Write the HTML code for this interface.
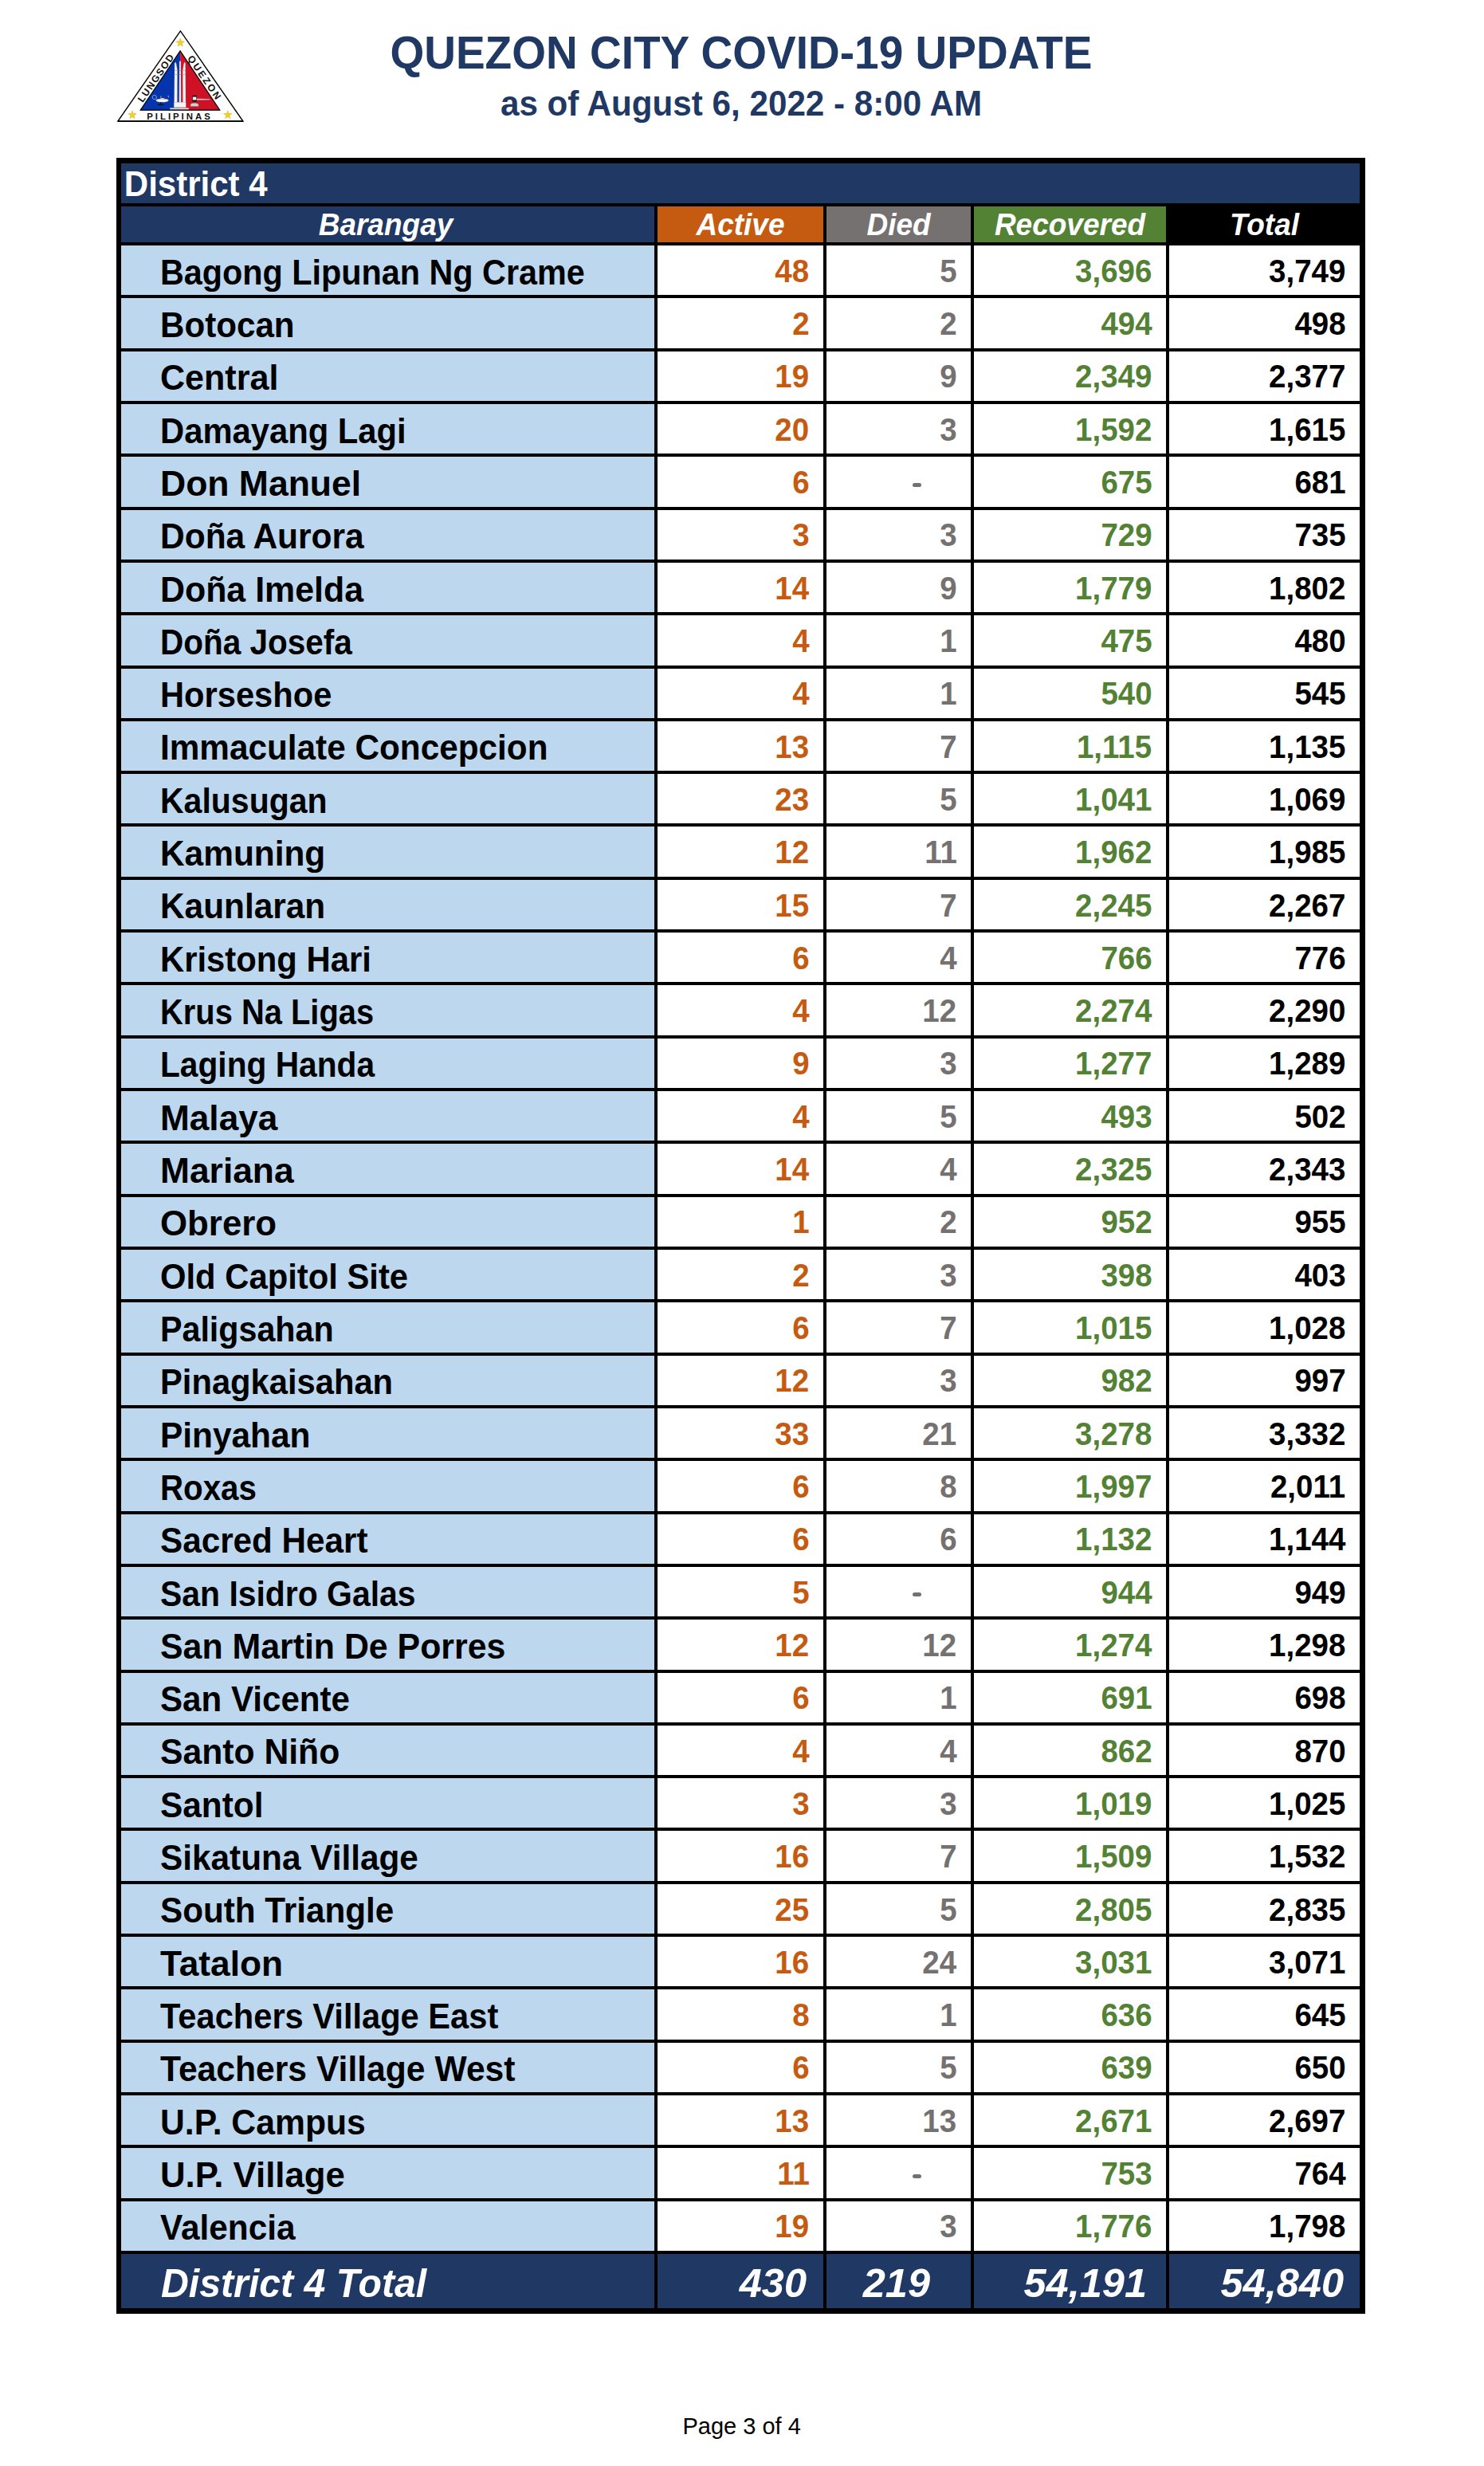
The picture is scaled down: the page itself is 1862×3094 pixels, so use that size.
<!DOCTYPE html>
<html><head><meta charset="utf-8"><title>Quezon City COVID-19 Update</title>
<style>
html,body{margin:0;padding:0;background:#fff}
body{width:1862px;height:3094px;position:relative;overflow:hidden;font-family:"Liberation Sans",sans-serif}
.r{position:absolute}
.t{position:absolute;white-space:nowrap;line-height:1}
.c{text-align:center}
</style></head><body>
<svg style="position:absolute;left:0;top:0" width="320" height="170" viewBox="0 0 320 170">
<defs><path id="st" d="M0,-5.5 L1.29,-1.78 L5.23,-1.7 L2.09,0.68 L3.23,4.45 L0,2.2 L-3.23,4.45 L-2.09,0.68 L-5.23,-1.7 L-1.29,-1.78Z"/></defs>
<polygon points="226.4,38.9 147.9,152.1 304.9,152.1" fill="#fff" stroke="#000" stroke-width="1.4" stroke-linejoin="miter"/>
<line x1="147.9" y1="152.2" x2="304.9" y2="152.2" stroke="#000" stroke-width="1.8"/>
<polygon points="226.1,63.8 176.2,138.2 226.1,138.2" fill="#0535ad"/>
<polygon points="226.1,63.8 226.1,138.2 275.8,138.2" fill="#cf1025"/>
<polygon points="226.1,63.8 176.2,138.2 275.8,138.2" fill="none" stroke="#000" stroke-width="1.2"/>
<g fill="#f8d117" stroke="#b89a10" stroke-width="0.35">
<use href="#st" x="226.2" y="53.6"/>
<use href="#st" x="166" y="144.3"/>
<use href="#st" x="285.8" y="144.3"/>
</g>
<g fill="#f4f4f4" stroke="#8a8a8a" stroke-width="0.3">
<polygon points="218.5,134.5 219.1,79.5 220.2,77.8 221.2,80 222.6,88.5 222.4,134.5"/>
<polygon points="224.7,134.5 225.1,77.5 226,76.2 226.9,77.5 227.2,134.5"/>
<polygon points="229.4,134.5 229.2,88.5 230.6,80 231.6,77.8 232.6,79.5 233.1,134.5"/>
<rect x="218.3" y="128.2" width="14.9" height="6.6"/>
<rect x="213.3" y="135.4" width="23.6" height="1.7" fill="#e8e8e8"/>
</g>
<g stroke="#777" stroke-width="0.45">
<line x1="219.5" y1="88.4" x2="232.4" y2="88.4"/><line x1="219.5" y1="93.6" x2="232.4" y2="93.6"/>
</g>
<g>
<ellipse cx="203.6" cy="126" rx="8" ry="2.3" fill="#fff" stroke="#444" stroke-width="0.35"/>
<path d="M199.5,124.6 C201,122.4 206,122.4 207.8,124.6Z" fill="#fff" stroke="#444" stroke-width="0.3"/>
<rect x="201" y="120.3" width="1.6" height="3.2" fill="#777"/>
<rect x="201.3" y="128" width="1" height="2.6" fill="#111"/>
<ellipse cx="201.9" cy="131.3" rx="4" ry="0.9" fill="#111"/>
<circle cx="193.8" cy="122" r="2.6" fill="none" stroke="#cfd6f0" stroke-width="0.6"/>
<path d="M211.3,122.8 C212.3,121.4 211.6,120 211,119.2 C210.6,120.5 210.4,121.6 211.3,122.8Z" fill="#ddd" stroke="#333" stroke-width="0.3"/>
</g>
<g>
<rect x="241.4" y="119.6" width="5.4" height="8.1" rx="0.5" fill="#1a1a1a"/>
<rect x="241.9" y="121.6" width="4.4" height="3.8" fill="#f0f0f0"/>
<path d="M246.8,123.8 L263.6,124.2 L263.6,125.2 L246.8,125.6Z" fill="#e6e6e6" stroke="#555" stroke-width="0.3"/>
<path d="M238.9,133.6 C238.6,130 240.5,129.3 244,129.3 C247.5,129.3 249.5,130 249.2,133.6Z" fill="#cfcfcf" stroke="#666" stroke-width="0.35"/>
</g>
<g font-family="Liberation Sans" font-weight="bold" font-size="11.4" fill="#111">
<text x="224" y="150.3" text-anchor="middle" textLength="79.5" lengthAdjust="spacing">PILIPINAS</text>
<text font-size="12.2" transform="translate(198.9,100.5) rotate(-55.27)" text-anchor="middle" textLength="70" lengthAdjust="spacing">LUNGSOD</text>
<text font-size="12.2" transform="translate(252.9,99.5) rotate(55.27)" text-anchor="middle" textLength="64" lengthAdjust="spacing">QUEZON</text>
</g>
</svg>

<div class="t c" style="left:430.0px;width:1000px;top:40.44px;font-size:55px;font-weight:bold;color:#1F3864;transform:scaleY(1.04);transform-origin:50% 84%">QUEZON CITY COVID-19 UPDATE</div>
<div class="t c" style="left:430.0px;width:1000px;top:109.88px;font-size:42.2px;font-weight:bold;color:#1F3864;transform:scaleY(1.04);transform-origin:50% 84%">as of August 6, 2022 - 8:00 AM</div>
<div class="r" style="left:146px;top:198px;width:1567px;height:2705px;background:#000"></div>
<div class="r" style="left:152px;top:205px;width:1554px;height:50px;background:#203864"></div>
<div class="t" style="left:155.8px;top:211.45px;font-size:42px;font-weight:bold;color:#fff;transform:scaleY(1.06);transform-origin:0 84%">District 4</div>
<div class="r" style="left:152px;top:259px;width:669px;height:45px;background:#203864"></div>
<div class="t c" style="left:-16.0px;width:1000px;top:263.68px;font-size:37px;font-weight:bold;font-style:italic;color:#fff;transform:scaleY(1.05);transform-origin:50% 84%">Barangay</div>
<div class="r" style="left:825px;top:259px;width:208px;height:45px;background:#C55A11"></div>
<div class="t c" style="left:429.0px;width:1000px;top:263.68px;font-size:37px;font-weight:bold;font-style:italic;color:#fff;transform:scaleY(1.05);transform-origin:50% 84%">Active</div>
<div class="r" style="left:1037px;top:259px;width:181px;height:45px;background:#767171"></div>
<div class="t c" style="left:627.5px;width:1000px;top:263.68px;font-size:37px;font-weight:bold;font-style:italic;color:#fff;transform:scaleY(1.05);transform-origin:50% 84%">Died</div>
<div class="r" style="left:1222px;top:259px;width:241px;height:45px;background:#548235"></div>
<div class="t c" style="left:842.5px;width:1000px;top:263.68px;font-size:37px;font-weight:bold;font-style:italic;color:#fff;transform:scaleY(1.05);transform-origin:50% 84%">Recovered</div>
<div class="r" style="left:1467px;top:259px;width:239px;height:45px;background:#000"></div>
<div class="t c" style="left:1086.5px;width:1000px;top:263.68px;font-size:37px;font-weight:bold;font-style:italic;color:#fff;transform:scaleY(1.05);transform-origin:50% 84%">Total</div>
<div class="r" style="left:152px;top:308px;width:669px;height:62px;background:#BDD7EE"></div>
<div class="r" style="left:825px;top:308px;width:208px;height:62px;background:#fff"></div>
<div class="r" style="left:1037px;top:308px;width:181px;height:62px;background:#fff"></div>
<div class="r" style="left:1222px;top:308px;width:241px;height:62px;background:#fff"></div>
<div class="r" style="left:1467px;top:308px;width:239px;height:62px;background:#fff"></div>
<div class="t" style="left:201.0px;top:318.61px;font-size:45px;font-weight:bold;color:#000;transform:scaleX(0.9185);transform-origin:0 0">Bagong Lipunan Ng Crame</div>
<div class="t" style="right:846.5px;top:319.72px;font-size:40.5px;font-weight:bold;color:#C55A11;transform:scaleX(0.95);transform-origin:100% 0">48</div>
<div class="t" style="right:661.5px;top:319.72px;font-size:40.5px;font-weight:bold;color:#767171;transform:scaleX(0.95);transform-origin:100% 0">5</div>
<div class="t" style="right:416.5px;top:319.72px;font-size:40.5px;font-weight:bold;color:#548235;transform:scaleX(0.95);transform-origin:100% 0">3,696</div>
<div class="t" style="right:173.5px;top:319.72px;font-size:40.5px;font-weight:bold;color:#000;transform:scaleX(0.95);transform-origin:100% 0">3,749</div>
<div class="r" style="left:152px;top:374px;width:669px;height:63px;background:#BDD7EE"></div>
<div class="r" style="left:825px;top:374px;width:208px;height:63px;background:#fff"></div>
<div class="r" style="left:1037px;top:374px;width:181px;height:63px;background:#fff"></div>
<div class="r" style="left:1222px;top:374px;width:241px;height:63px;background:#fff"></div>
<div class="r" style="left:1467px;top:374px;width:239px;height:63px;background:#fff"></div>
<div class="t" style="left:201.0px;top:384.92px;font-size:45px;font-weight:bold;color:#000;transform:scaleX(0.9368);transform-origin:0 0">Botocan</div>
<div class="t" style="right:846.5px;top:386.03px;font-size:40.5px;font-weight:bold;color:#C55A11;transform:scaleX(0.95);transform-origin:100% 0">2</div>
<div class="t" style="right:661.5px;top:386.03px;font-size:40.5px;font-weight:bold;color:#767171;transform:scaleX(0.95);transform-origin:100% 0">2</div>
<div class="t" style="right:416.5px;top:386.03px;font-size:40.5px;font-weight:bold;color:#548235;transform:scaleX(0.95);transform-origin:100% 0">494</div>
<div class="t" style="right:173.5px;top:386.03px;font-size:40.5px;font-weight:bold;color:#000;transform:scaleX(0.95);transform-origin:100% 0">498</div>
<div class="r" style="left:152px;top:441px;width:669px;height:62px;background:#BDD7EE"></div>
<div class="r" style="left:825px;top:441px;width:208px;height:62px;background:#fff"></div>
<div class="r" style="left:1037px;top:441px;width:181px;height:62px;background:#fff"></div>
<div class="r" style="left:1222px;top:441px;width:241px;height:62px;background:#fff"></div>
<div class="r" style="left:1467px;top:441px;width:239px;height:62px;background:#fff"></div>
<div class="t" style="left:201.0px;top:451.24px;font-size:45px;font-weight:bold;color:#000;transform:scaleX(0.9571);transform-origin:0 0">Central</div>
<div class="t" style="right:846.5px;top:452.35px;font-size:40.5px;font-weight:bold;color:#C55A11;transform:scaleX(0.95);transform-origin:100% 0">19</div>
<div class="t" style="right:661.5px;top:452.35px;font-size:40.5px;font-weight:bold;color:#767171;transform:scaleX(0.95);transform-origin:100% 0">9</div>
<div class="t" style="right:416.5px;top:452.35px;font-size:40.5px;font-weight:bold;color:#548235;transform:scaleX(0.95);transform-origin:100% 0">2,349</div>
<div class="t" style="right:173.5px;top:452.35px;font-size:40.5px;font-weight:bold;color:#000;transform:scaleX(0.95);transform-origin:100% 0">2,377</div>
<div class="r" style="left:152px;top:507px;width:669px;height:62px;background:#BDD7EE"></div>
<div class="r" style="left:825px;top:507px;width:208px;height:62px;background:#fff"></div>
<div class="r" style="left:1037px;top:507px;width:181px;height:62px;background:#fff"></div>
<div class="r" style="left:1222px;top:507px;width:241px;height:62px;background:#fff"></div>
<div class="r" style="left:1467px;top:507px;width:239px;height:62px;background:#fff"></div>
<div class="t" style="left:201.0px;top:517.56px;font-size:45px;font-weight:bold;color:#000;transform:scaleX(0.9279);transform-origin:0 0">Damayang Lagi</div>
<div class="t" style="right:846.5px;top:518.66px;font-size:40.5px;font-weight:bold;color:#C55A11;transform:scaleX(0.95);transform-origin:100% 0">20</div>
<div class="t" style="right:661.5px;top:518.66px;font-size:40.5px;font-weight:bold;color:#767171;transform:scaleX(0.95);transform-origin:100% 0">3</div>
<div class="t" style="right:416.5px;top:518.66px;font-size:40.5px;font-weight:bold;color:#548235;transform:scaleX(0.95);transform-origin:100% 0">1,592</div>
<div class="t" style="right:173.5px;top:518.66px;font-size:40.5px;font-weight:bold;color:#000;transform:scaleX(0.95);transform-origin:100% 0">1,615</div>
<div class="r" style="left:152px;top:573px;width:669px;height:63px;background:#BDD7EE"></div>
<div class="r" style="left:825px;top:573px;width:208px;height:63px;background:#fff"></div>
<div class="r" style="left:1037px;top:573px;width:181px;height:63px;background:#fff"></div>
<div class="r" style="left:1222px;top:573px;width:241px;height:63px;background:#fff"></div>
<div class="r" style="left:1467px;top:573px;width:239px;height:63px;background:#fff"></div>
<div class="t" style="left:201.0px;top:583.87px;font-size:45px;font-weight:bold;color:#000;transform:scaleX(0.9889);transform-origin:0 0">Don Manuel</div>
<div class="t" style="right:846.5px;top:584.98px;font-size:40.5px;font-weight:bold;color:#C55A11;transform:scaleX(0.95);transform-origin:100% 0">6</div>
<div class="r" style="left:1145px;top:606px;width:11px;height:5px;border-radius:2.5px;background:#767171"></div>
<div class="t" style="right:416.5px;top:584.98px;font-size:40.5px;font-weight:bold;color:#548235;transform:scaleX(0.95);transform-origin:100% 0">675</div>
<div class="t" style="right:173.5px;top:584.98px;font-size:40.5px;font-weight:bold;color:#000;transform:scaleX(0.95);transform-origin:100% 0">681</div>
<div class="r" style="left:152px;top:640px;width:669px;height:62px;background:#BDD7EE"></div>
<div class="r" style="left:825px;top:640px;width:208px;height:62px;background:#fff"></div>
<div class="r" style="left:1037px;top:640px;width:181px;height:62px;background:#fff"></div>
<div class="r" style="left:1222px;top:640px;width:241px;height:62px;background:#fff"></div>
<div class="r" style="left:1467px;top:640px;width:239px;height:62px;background:#fff"></div>
<div class="t" style="left:201.0px;top:650.19px;font-size:45px;font-weight:bold;color:#000;transform:scaleX(0.9441);transform-origin:0 0">Doña Aurora</div>
<div class="t" style="right:846.5px;top:651.30px;font-size:40.5px;font-weight:bold;color:#C55A11;transform:scaleX(0.95);transform-origin:100% 0">3</div>
<div class="t" style="right:661.5px;top:651.30px;font-size:40.5px;font-weight:bold;color:#767171;transform:scaleX(0.95);transform-origin:100% 0">3</div>
<div class="t" style="right:416.5px;top:651.30px;font-size:40.5px;font-weight:bold;color:#548235;transform:scaleX(0.95);transform-origin:100% 0">729</div>
<div class="t" style="right:173.5px;top:651.30px;font-size:40.5px;font-weight:bold;color:#000;transform:scaleX(0.95);transform-origin:100% 0">735</div>
<div class="r" style="left:152px;top:706px;width:669px;height:62px;background:#BDD7EE"></div>
<div class="r" style="left:825px;top:706px;width:208px;height:62px;background:#fff"></div>
<div class="r" style="left:1037px;top:706px;width:181px;height:62px;background:#fff"></div>
<div class="r" style="left:1222px;top:706px;width:241px;height:62px;background:#fff"></div>
<div class="r" style="left:1467px;top:706px;width:239px;height:62px;background:#fff"></div>
<div class="t" style="left:201.0px;top:716.50px;font-size:45px;font-weight:bold;color:#000;transform:scaleX(0.953);transform-origin:0 0">Doña Imelda</div>
<div class="t" style="right:846.5px;top:717.61px;font-size:40.5px;font-weight:bold;color:#C55A11;transform:scaleX(0.95);transform-origin:100% 0">14</div>
<div class="t" style="right:661.5px;top:717.61px;font-size:40.5px;font-weight:bold;color:#767171;transform:scaleX(0.95);transform-origin:100% 0">9</div>
<div class="t" style="right:416.5px;top:717.61px;font-size:40.5px;font-weight:bold;color:#548235;transform:scaleX(0.95);transform-origin:100% 0">1,779</div>
<div class="t" style="right:173.5px;top:717.61px;font-size:40.5px;font-weight:bold;color:#000;transform:scaleX(0.95);transform-origin:100% 0">1,802</div>
<div class="r" style="left:152px;top:772px;width:669px;height:63px;background:#BDD7EE"></div>
<div class="r" style="left:825px;top:772px;width:208px;height:63px;background:#fff"></div>
<div class="r" style="left:1037px;top:772px;width:181px;height:63px;background:#fff"></div>
<div class="r" style="left:1222px;top:772px;width:241px;height:63px;background:#fff"></div>
<div class="r" style="left:1467px;top:772px;width:239px;height:63px;background:#fff"></div>
<div class="t" style="left:201.0px;top:782.82px;font-size:45px;font-weight:bold;color:#000;transform:scaleX(0.9);transform-origin:0 0">Doña Josefa</div>
<div class="t" style="right:846.5px;top:783.93px;font-size:40.5px;font-weight:bold;color:#C55A11;transform:scaleX(0.95);transform-origin:100% 0">4</div>
<div class="t" style="right:661.5px;top:783.93px;font-size:40.5px;font-weight:bold;color:#767171;transform:scaleX(0.95);transform-origin:100% 0">1</div>
<div class="t" style="right:416.5px;top:783.93px;font-size:40.5px;font-weight:bold;color:#548235;transform:scaleX(0.95);transform-origin:100% 0">475</div>
<div class="t" style="right:173.5px;top:783.93px;font-size:40.5px;font-weight:bold;color:#000;transform:scaleX(0.95);transform-origin:100% 0">480</div>
<div class="r" style="left:152px;top:839px;width:669px;height:62px;background:#BDD7EE"></div>
<div class="r" style="left:825px;top:839px;width:208px;height:62px;background:#fff"></div>
<div class="r" style="left:1037px;top:839px;width:181px;height:62px;background:#fff"></div>
<div class="r" style="left:1222px;top:839px;width:241px;height:62px;background:#fff"></div>
<div class="r" style="left:1467px;top:839px;width:239px;height:62px;background:#fff"></div>
<div class="t" style="left:201.0px;top:849.14px;font-size:45px;font-weight:bold;color:#000;transform:scaleX(0.9259);transform-origin:0 0">Horseshoe</div>
<div class="t" style="right:846.5px;top:850.24px;font-size:40.5px;font-weight:bold;color:#C55A11;transform:scaleX(0.95);transform-origin:100% 0">4</div>
<div class="t" style="right:661.5px;top:850.24px;font-size:40.5px;font-weight:bold;color:#767171;transform:scaleX(0.95);transform-origin:100% 0">1</div>
<div class="t" style="right:416.5px;top:850.24px;font-size:40.5px;font-weight:bold;color:#548235;transform:scaleX(0.95);transform-origin:100% 0">540</div>
<div class="t" style="right:173.5px;top:850.24px;font-size:40.5px;font-weight:bold;color:#000;transform:scaleX(0.95);transform-origin:100% 0">545</div>
<div class="r" style="left:152px;top:905px;width:669px;height:62px;background:#BDD7EE"></div>
<div class="r" style="left:825px;top:905px;width:208px;height:62px;background:#fff"></div>
<div class="r" style="left:1037px;top:905px;width:181px;height:62px;background:#fff"></div>
<div class="r" style="left:1222px;top:905px;width:241px;height:62px;background:#fff"></div>
<div class="r" style="left:1467px;top:905px;width:239px;height:62px;background:#fff"></div>
<div class="t" style="left:201.0px;top:915.45px;font-size:45px;font-weight:bold;color:#000;transform:scaleX(0.9399);transform-origin:0 0">Immaculate Concepcion</div>
<div class="t" style="right:846.5px;top:916.56px;font-size:40.5px;font-weight:bold;color:#C55A11;transform:scaleX(0.95);transform-origin:100% 0">13</div>
<div class="t" style="right:661.5px;top:916.56px;font-size:40.5px;font-weight:bold;color:#767171;transform:scaleX(0.95);transform-origin:100% 0">7</div>
<div class="t" style="right:416.5px;top:916.56px;font-size:40.5px;font-weight:bold;color:#548235;transform:scaleX(0.95);transform-origin:100% 0">1,115</div>
<div class="t" style="right:173.5px;top:916.56px;font-size:40.5px;font-weight:bold;color:#000;transform:scaleX(0.95);transform-origin:100% 0">1,135</div>
<div class="r" style="left:152px;top:971px;width:669px;height:62px;background:#BDD7EE"></div>
<div class="r" style="left:825px;top:971px;width:208px;height:62px;background:#fff"></div>
<div class="r" style="left:1037px;top:971px;width:181px;height:62px;background:#fff"></div>
<div class="r" style="left:1222px;top:971px;width:241px;height:62px;background:#fff"></div>
<div class="r" style="left:1467px;top:971px;width:239px;height:62px;background:#fff"></div>
<div class="t" style="left:201.0px;top:981.77px;font-size:45px;font-weight:bold;color:#000;transform:scaleX(0.911);transform-origin:0 0">Kalusugan</div>
<div class="t" style="right:846.5px;top:982.88px;font-size:40.5px;font-weight:bold;color:#C55A11;transform:scaleX(0.95);transform-origin:100% 0">23</div>
<div class="t" style="right:661.5px;top:982.88px;font-size:40.5px;font-weight:bold;color:#767171;transform:scaleX(0.95);transform-origin:100% 0">5</div>
<div class="t" style="right:416.5px;top:982.88px;font-size:40.5px;font-weight:bold;color:#548235;transform:scaleX(0.95);transform-origin:100% 0">1,041</div>
<div class="t" style="right:173.5px;top:982.88px;font-size:40.5px;font-weight:bold;color:#000;transform:scaleX(0.95);transform-origin:100% 0">1,069</div>
<div class="r" style="left:152px;top:1037px;width:669px;height:63px;background:#BDD7EE"></div>
<div class="r" style="left:825px;top:1037px;width:208px;height:63px;background:#fff"></div>
<div class="r" style="left:1037px;top:1037px;width:181px;height:63px;background:#fff"></div>
<div class="r" style="left:1222px;top:1037px;width:241px;height:63px;background:#fff"></div>
<div class="r" style="left:1467px;top:1037px;width:239px;height:63px;background:#fff"></div>
<div class="t" style="left:201.0px;top:1048.08px;font-size:45px;font-weight:bold;color:#000;transform:scaleX(0.9421);transform-origin:0 0">Kamuning</div>
<div class="t" style="right:846.5px;top:1049.19px;font-size:40.5px;font-weight:bold;color:#C55A11;transform:scaleX(0.95);transform-origin:100% 0">12</div>
<div class="t" style="right:661.5px;top:1049.19px;font-size:40.5px;font-weight:bold;color:#767171;transform:scaleX(0.95);transform-origin:100% 0">11</div>
<div class="t" style="right:416.5px;top:1049.19px;font-size:40.5px;font-weight:bold;color:#548235;transform:scaleX(0.95);transform-origin:100% 0">1,962</div>
<div class="t" style="right:173.5px;top:1049.19px;font-size:40.5px;font-weight:bold;color:#000;transform:scaleX(0.95);transform-origin:100% 0">1,985</div>
<div class="r" style="left:152px;top:1104px;width:669px;height:62px;background:#BDD7EE"></div>
<div class="r" style="left:825px;top:1104px;width:208px;height:62px;background:#fff"></div>
<div class="r" style="left:1037px;top:1104px;width:181px;height:62px;background:#fff"></div>
<div class="r" style="left:1222px;top:1104px;width:241px;height:62px;background:#fff"></div>
<div class="r" style="left:1467px;top:1104px;width:239px;height:62px;background:#fff"></div>
<div class="t" style="left:201.0px;top:1114.40px;font-size:45px;font-weight:bold;color:#000;transform:scaleX(0.9418);transform-origin:0 0">Kaunlaran</div>
<div class="t" style="right:846.5px;top:1115.51px;font-size:40.5px;font-weight:bold;color:#C55A11;transform:scaleX(0.95);transform-origin:100% 0">15</div>
<div class="t" style="right:661.5px;top:1115.51px;font-size:40.5px;font-weight:bold;color:#767171;transform:scaleX(0.95);transform-origin:100% 0">7</div>
<div class="t" style="right:416.5px;top:1115.51px;font-size:40.5px;font-weight:bold;color:#548235;transform:scaleX(0.95);transform-origin:100% 0">2,245</div>
<div class="t" style="right:173.5px;top:1115.51px;font-size:40.5px;font-weight:bold;color:#000;transform:scaleX(0.95);transform-origin:100% 0">2,267</div>
<div class="r" style="left:152px;top:1170px;width:669px;height:62px;background:#BDD7EE"></div>
<div class="r" style="left:825px;top:1170px;width:208px;height:62px;background:#fff"></div>
<div class="r" style="left:1037px;top:1170px;width:181px;height:62px;background:#fff"></div>
<div class="r" style="left:1222px;top:1170px;width:241px;height:62px;background:#fff"></div>
<div class="r" style="left:1467px;top:1170px;width:239px;height:62px;background:#fff"></div>
<div class="t" style="left:201.0px;top:1180.72px;font-size:45px;font-weight:bold;color:#000;transform:scaleX(0.9291);transform-origin:0 0">Kristong Hari</div>
<div class="t" style="right:846.5px;top:1181.82px;font-size:40.5px;font-weight:bold;color:#C55A11;transform:scaleX(0.95);transform-origin:100% 0">6</div>
<div class="t" style="right:661.5px;top:1181.82px;font-size:40.5px;font-weight:bold;color:#767171;transform:scaleX(0.95);transform-origin:100% 0">4</div>
<div class="t" style="right:416.5px;top:1181.82px;font-size:40.5px;font-weight:bold;color:#548235;transform:scaleX(0.95);transform-origin:100% 0">766</div>
<div class="t" style="right:173.5px;top:1181.82px;font-size:40.5px;font-weight:bold;color:#000;transform:scaleX(0.95);transform-origin:100% 0">776</div>
<div class="r" style="left:152px;top:1236px;width:669px;height:63px;background:#BDD7EE"></div>
<div class="r" style="left:825px;top:1236px;width:208px;height:63px;background:#fff"></div>
<div class="r" style="left:1037px;top:1236px;width:181px;height:63px;background:#fff"></div>
<div class="r" style="left:1222px;top:1236px;width:241px;height:63px;background:#fff"></div>
<div class="r" style="left:1467px;top:1236px;width:239px;height:63px;background:#fff"></div>
<div class="t" style="left:201.0px;top:1247.03px;font-size:45px;font-weight:bold;color:#000;transform:scaleX(0.8861);transform-origin:0 0">Krus Na Ligas</div>
<div class="t" style="right:846.5px;top:1248.14px;font-size:40.5px;font-weight:bold;color:#C55A11;transform:scaleX(0.95);transform-origin:100% 0">4</div>
<div class="t" style="right:661.5px;top:1248.14px;font-size:40.5px;font-weight:bold;color:#767171;transform:scaleX(0.95);transform-origin:100% 0">12</div>
<div class="t" style="right:416.5px;top:1248.14px;font-size:40.5px;font-weight:bold;color:#548235;transform:scaleX(0.95);transform-origin:100% 0">2,274</div>
<div class="t" style="right:173.5px;top:1248.14px;font-size:40.5px;font-weight:bold;color:#000;transform:scaleX(0.95);transform-origin:100% 0">2,290</div>
<div class="r" style="left:152px;top:1303px;width:669px;height:62px;background:#BDD7EE"></div>
<div class="r" style="left:825px;top:1303px;width:208px;height:62px;background:#fff"></div>
<div class="r" style="left:1037px;top:1303px;width:181px;height:62px;background:#fff"></div>
<div class="r" style="left:1222px;top:1303px;width:241px;height:62px;background:#fff"></div>
<div class="r" style="left:1467px;top:1303px;width:239px;height:62px;background:#fff"></div>
<div class="t" style="left:201.0px;top:1313.35px;font-size:45px;font-weight:bold;color:#000;transform:scaleX(0.9046);transform-origin:0 0">Laging Handa</div>
<div class="t" style="right:846.5px;top:1314.46px;font-size:40.5px;font-weight:bold;color:#C55A11;transform:scaleX(0.95);transform-origin:100% 0">9</div>
<div class="t" style="right:661.5px;top:1314.46px;font-size:40.5px;font-weight:bold;color:#767171;transform:scaleX(0.95);transform-origin:100% 0">3</div>
<div class="t" style="right:416.5px;top:1314.46px;font-size:40.5px;font-weight:bold;color:#548235;transform:scaleX(0.95);transform-origin:100% 0">1,277</div>
<div class="t" style="right:173.5px;top:1314.46px;font-size:40.5px;font-weight:bold;color:#000;transform:scaleX(0.95);transform-origin:100% 0">1,289</div>
<div class="r" style="left:152px;top:1369px;width:669px;height:62px;background:#BDD7EE"></div>
<div class="r" style="left:825px;top:1369px;width:208px;height:62px;background:#fff"></div>
<div class="r" style="left:1037px;top:1369px;width:181px;height:62px;background:#fff"></div>
<div class="r" style="left:1222px;top:1369px;width:241px;height:62px;background:#fff"></div>
<div class="r" style="left:1467px;top:1369px;width:239px;height:62px;background:#fff"></div>
<div class="t" style="left:201.0px;top:1379.66px;font-size:45px;font-weight:bold;color:#000;transform:scaleX(0.9817);transform-origin:0 0">Malaya</div>
<div class="t" style="right:846.5px;top:1380.77px;font-size:40.5px;font-weight:bold;color:#C55A11;transform:scaleX(0.95);transform-origin:100% 0">4</div>
<div class="t" style="right:661.5px;top:1380.77px;font-size:40.5px;font-weight:bold;color:#767171;transform:scaleX(0.95);transform-origin:100% 0">5</div>
<div class="t" style="right:416.5px;top:1380.77px;font-size:40.5px;font-weight:bold;color:#548235;transform:scaleX(0.95);transform-origin:100% 0">493</div>
<div class="t" style="right:173.5px;top:1380.77px;font-size:40.5px;font-weight:bold;color:#000;transform:scaleX(0.95);transform-origin:100% 0">502</div>
<div class="r" style="left:152px;top:1435px;width:669px;height:63px;background:#BDD7EE"></div>
<div class="r" style="left:825px;top:1435px;width:208px;height:63px;background:#fff"></div>
<div class="r" style="left:1037px;top:1435px;width:181px;height:63px;background:#fff"></div>
<div class="r" style="left:1222px;top:1435px;width:241px;height:63px;background:#fff"></div>
<div class="r" style="left:1467px;top:1435px;width:239px;height:63px;background:#fff"></div>
<div class="t" style="left:201.0px;top:1445.98px;font-size:45px;font-weight:bold;color:#000;transform:scaleX(0.9857);transform-origin:0 0">Mariana</div>
<div class="t" style="right:846.5px;top:1447.09px;font-size:40.5px;font-weight:bold;color:#C55A11;transform:scaleX(0.95);transform-origin:100% 0">14</div>
<div class="t" style="right:661.5px;top:1447.09px;font-size:40.5px;font-weight:bold;color:#767171;transform:scaleX(0.95);transform-origin:100% 0">4</div>
<div class="t" style="right:416.5px;top:1447.09px;font-size:40.5px;font-weight:bold;color:#548235;transform:scaleX(0.95);transform-origin:100% 0">2,325</div>
<div class="t" style="right:173.5px;top:1447.09px;font-size:40.5px;font-weight:bold;color:#000;transform:scaleX(0.95);transform-origin:100% 0">2,343</div>
<div class="r" style="left:152px;top:1502px;width:669px;height:62px;background:#BDD7EE"></div>
<div class="r" style="left:825px;top:1502px;width:208px;height:62px;background:#fff"></div>
<div class="r" style="left:1037px;top:1502px;width:181px;height:62px;background:#fff"></div>
<div class="r" style="left:1222px;top:1502px;width:241px;height:62px;background:#fff"></div>
<div class="r" style="left:1467px;top:1502px;width:239px;height:62px;background:#fff"></div>
<div class="t" style="left:201.0px;top:1512.30px;font-size:45px;font-weight:bold;color:#000;transform:scaleX(0.9735);transform-origin:0 0">Obrero</div>
<div class="t" style="right:846.5px;top:1513.40px;font-size:40.5px;font-weight:bold;color:#C55A11;transform:scaleX(0.95);transform-origin:100% 0">1</div>
<div class="t" style="right:661.5px;top:1513.40px;font-size:40.5px;font-weight:bold;color:#767171;transform:scaleX(0.95);transform-origin:100% 0">2</div>
<div class="t" style="right:416.5px;top:1513.40px;font-size:40.5px;font-weight:bold;color:#548235;transform:scaleX(0.95);transform-origin:100% 0">952</div>
<div class="t" style="right:173.5px;top:1513.40px;font-size:40.5px;font-weight:bold;color:#000;transform:scaleX(0.95);transform-origin:100% 0">955</div>
<div class="r" style="left:152px;top:1568px;width:669px;height:62px;background:#BDD7EE"></div>
<div class="r" style="left:825px;top:1568px;width:208px;height:62px;background:#fff"></div>
<div class="r" style="left:1037px;top:1568px;width:181px;height:62px;background:#fff"></div>
<div class="r" style="left:1222px;top:1568px;width:241px;height:62px;background:#fff"></div>
<div class="r" style="left:1467px;top:1568px;width:239px;height:62px;background:#fff"></div>
<div class="t" style="left:201.0px;top:1578.61px;font-size:45px;font-weight:bold;color:#000;transform:scaleX(0.9285);transform-origin:0 0">Old Capitol Site</div>
<div class="t" style="right:846.5px;top:1579.72px;font-size:40.5px;font-weight:bold;color:#C55A11;transform:scaleX(0.95);transform-origin:100% 0">2</div>
<div class="t" style="right:661.5px;top:1579.72px;font-size:40.5px;font-weight:bold;color:#767171;transform:scaleX(0.95);transform-origin:100% 0">3</div>
<div class="t" style="right:416.5px;top:1579.72px;font-size:40.5px;font-weight:bold;color:#548235;transform:scaleX(0.95);transform-origin:100% 0">398</div>
<div class="t" style="right:173.5px;top:1579.72px;font-size:40.5px;font-weight:bold;color:#000;transform:scaleX(0.95);transform-origin:100% 0">403</div>
<div class="r" style="left:152px;top:1634px;width:669px;height:63px;background:#BDD7EE"></div>
<div class="r" style="left:825px;top:1634px;width:208px;height:63px;background:#fff"></div>
<div class="r" style="left:1037px;top:1634px;width:181px;height:63px;background:#fff"></div>
<div class="r" style="left:1222px;top:1634px;width:241px;height:63px;background:#fff"></div>
<div class="r" style="left:1467px;top:1634px;width:239px;height:63px;background:#fff"></div>
<div class="t" style="left:201.0px;top:1644.93px;font-size:45px;font-weight:bold;color:#000;transform:scaleX(0.9158);transform-origin:0 0">Paligsahan</div>
<div class="t" style="right:846.5px;top:1646.04px;font-size:40.5px;font-weight:bold;color:#C55A11;transform:scaleX(0.95);transform-origin:100% 0">6</div>
<div class="t" style="right:661.5px;top:1646.04px;font-size:40.5px;font-weight:bold;color:#767171;transform:scaleX(0.95);transform-origin:100% 0">7</div>
<div class="t" style="right:416.5px;top:1646.04px;font-size:40.5px;font-weight:bold;color:#548235;transform:scaleX(0.95);transform-origin:100% 0">1,015</div>
<div class="t" style="right:173.5px;top:1646.04px;font-size:40.5px;font-weight:bold;color:#000;transform:scaleX(0.95);transform-origin:100% 0">1,028</div>
<div class="r" style="left:152px;top:1701px;width:669px;height:62px;background:#BDD7EE"></div>
<div class="r" style="left:825px;top:1701px;width:208px;height:62px;background:#fff"></div>
<div class="r" style="left:1037px;top:1701px;width:181px;height:62px;background:#fff"></div>
<div class="r" style="left:1222px;top:1701px;width:241px;height:62px;background:#fff"></div>
<div class="r" style="left:1467px;top:1701px;width:239px;height:62px;background:#fff"></div>
<div class="t" style="left:201.0px;top:1711.24px;font-size:45px;font-weight:bold;color:#000;transform:scaleX(0.9269);transform-origin:0 0">Pinagkaisahan</div>
<div class="t" style="right:846.5px;top:1712.35px;font-size:40.5px;font-weight:bold;color:#C55A11;transform:scaleX(0.95);transform-origin:100% 0">12</div>
<div class="t" style="right:661.5px;top:1712.35px;font-size:40.5px;font-weight:bold;color:#767171;transform:scaleX(0.95);transform-origin:100% 0">3</div>
<div class="t" style="right:416.5px;top:1712.35px;font-size:40.5px;font-weight:bold;color:#548235;transform:scaleX(0.95);transform-origin:100% 0">982</div>
<div class="t" style="right:173.5px;top:1712.35px;font-size:40.5px;font-weight:bold;color:#000;transform:scaleX(0.95);transform-origin:100% 0">997</div>
<div class="r" style="left:152px;top:1767px;width:669px;height:62px;background:#BDD7EE"></div>
<div class="r" style="left:825px;top:1767px;width:208px;height:62px;background:#fff"></div>
<div class="r" style="left:1037px;top:1767px;width:181px;height:62px;background:#fff"></div>
<div class="r" style="left:1222px;top:1767px;width:241px;height:62px;background:#fff"></div>
<div class="r" style="left:1467px;top:1767px;width:239px;height:62px;background:#fff"></div>
<div class="t" style="left:201.0px;top:1777.56px;font-size:45px;font-weight:bold;color:#000;transform:scaleX(0.9419);transform-origin:0 0">Pinyahan</div>
<div class="t" style="right:846.5px;top:1778.67px;font-size:40.5px;font-weight:bold;color:#C55A11;transform:scaleX(0.95);transform-origin:100% 0">33</div>
<div class="t" style="right:661.5px;top:1778.67px;font-size:40.5px;font-weight:bold;color:#767171;transform:scaleX(0.95);transform-origin:100% 0">21</div>
<div class="t" style="right:416.5px;top:1778.67px;font-size:40.5px;font-weight:bold;color:#548235;transform:scaleX(0.95);transform-origin:100% 0">3,278</div>
<div class="t" style="right:173.5px;top:1778.67px;font-size:40.5px;font-weight:bold;color:#000;transform:scaleX(0.95);transform-origin:100% 0">3,332</div>
<div class="r" style="left:152px;top:1833px;width:669px;height:63px;background:#BDD7EE"></div>
<div class="r" style="left:825px;top:1833px;width:208px;height:63px;background:#fff"></div>
<div class="r" style="left:1037px;top:1833px;width:181px;height:63px;background:#fff"></div>
<div class="r" style="left:1222px;top:1833px;width:241px;height:63px;background:#fff"></div>
<div class="r" style="left:1467px;top:1833px;width:239px;height:63px;background:#fff"></div>
<div class="t" style="left:201.0px;top:1843.88px;font-size:45px;font-weight:bold;color:#000;transform:scaleX(0.8953);transform-origin:0 0">Roxas</div>
<div class="t" style="right:846.5px;top:1844.98px;font-size:40.5px;font-weight:bold;color:#C55A11;transform:scaleX(0.95);transform-origin:100% 0">6</div>
<div class="t" style="right:661.5px;top:1844.98px;font-size:40.5px;font-weight:bold;color:#767171;transform:scaleX(0.95);transform-origin:100% 0">8</div>
<div class="t" style="right:416.5px;top:1844.98px;font-size:40.5px;font-weight:bold;color:#548235;transform:scaleX(0.95);transform-origin:100% 0">1,997</div>
<div class="t" style="right:173.5px;top:1844.98px;font-size:40.5px;font-weight:bold;color:#000;transform:scaleX(0.95);transform-origin:100% 0">2,011</div>
<div class="r" style="left:152px;top:1900px;width:669px;height:62px;background:#BDD7EE"></div>
<div class="r" style="left:825px;top:1900px;width:208px;height:62px;background:#fff"></div>
<div class="r" style="left:1037px;top:1900px;width:181px;height:62px;background:#fff"></div>
<div class="r" style="left:1222px;top:1900px;width:241px;height:62px;background:#fff"></div>
<div class="r" style="left:1467px;top:1900px;width:239px;height:62px;background:#fff"></div>
<div class="t" style="left:201.0px;top:1910.19px;font-size:45px;font-weight:bold;color:#000;transform:scaleX(0.9386);transform-origin:0 0">Sacred Heart</div>
<div class="t" style="right:846.5px;top:1911.30px;font-size:40.5px;font-weight:bold;color:#C55A11;transform:scaleX(0.95);transform-origin:100% 0">6</div>
<div class="t" style="right:661.5px;top:1911.30px;font-size:40.5px;font-weight:bold;color:#767171;transform:scaleX(0.95);transform-origin:100% 0">6</div>
<div class="t" style="right:416.5px;top:1911.30px;font-size:40.5px;font-weight:bold;color:#548235;transform:scaleX(0.95);transform-origin:100% 0">1,132</div>
<div class="t" style="right:173.5px;top:1911.30px;font-size:40.5px;font-weight:bold;color:#000;transform:scaleX(0.95);transform-origin:100% 0">1,144</div>
<div class="r" style="left:152px;top:1966px;width:669px;height:62px;background:#BDD7EE"></div>
<div class="r" style="left:825px;top:1966px;width:208px;height:62px;background:#fff"></div>
<div class="r" style="left:1037px;top:1966px;width:181px;height:62px;background:#fff"></div>
<div class="r" style="left:1222px;top:1966px;width:241px;height:62px;background:#fff"></div>
<div class="r" style="left:1467px;top:1966px;width:239px;height:62px;background:#fff"></div>
<div class="t" style="left:201.0px;top:1976.51px;font-size:45px;font-weight:bold;color:#000;transform:scaleX(0.909);transform-origin:0 0">San Isidro Galas</div>
<div class="t" style="right:846.5px;top:1977.62px;font-size:40.5px;font-weight:bold;color:#C55A11;transform:scaleX(0.95);transform-origin:100% 0">5</div>
<div class="r" style="left:1145px;top:1998px;width:11px;height:5px;border-radius:2.5px;background:#767171"></div>
<div class="t" style="right:416.5px;top:1977.62px;font-size:40.5px;font-weight:bold;color:#548235;transform:scaleX(0.95);transform-origin:100% 0">944</div>
<div class="t" style="right:173.5px;top:1977.62px;font-size:40.5px;font-weight:bold;color:#000;transform:scaleX(0.95);transform-origin:100% 0">949</div>
<div class="r" style="left:152px;top:2032px;width:669px;height:63px;background:#BDD7EE"></div>
<div class="r" style="left:825px;top:2032px;width:208px;height:63px;background:#fff"></div>
<div class="r" style="left:1037px;top:2032px;width:181px;height:63px;background:#fff"></div>
<div class="r" style="left:1222px;top:2032px;width:241px;height:63px;background:#fff"></div>
<div class="r" style="left:1467px;top:2032px;width:239px;height:63px;background:#fff"></div>
<div class="t" style="left:201.0px;top:2042.82px;font-size:45px;font-weight:bold;color:#000;transform:scaleX(0.952);transform-origin:0 0">San Martin De Porres</div>
<div class="t" style="right:846.5px;top:2043.93px;font-size:40.5px;font-weight:bold;color:#C55A11;transform:scaleX(0.95);transform-origin:100% 0">12</div>
<div class="t" style="right:661.5px;top:2043.93px;font-size:40.5px;font-weight:bold;color:#767171;transform:scaleX(0.95);transform-origin:100% 0">12</div>
<div class="t" style="right:416.5px;top:2043.93px;font-size:40.5px;font-weight:bold;color:#548235;transform:scaleX(0.95);transform-origin:100% 0">1,274</div>
<div class="t" style="right:173.5px;top:2043.93px;font-size:40.5px;font-weight:bold;color:#000;transform:scaleX(0.95);transform-origin:100% 0">1,298</div>
<div class="r" style="left:152px;top:2099px;width:669px;height:62px;background:#BDD7EE"></div>
<div class="r" style="left:825px;top:2099px;width:208px;height:62px;background:#fff"></div>
<div class="r" style="left:1037px;top:2099px;width:181px;height:62px;background:#fff"></div>
<div class="r" style="left:1222px;top:2099px;width:241px;height:62px;background:#fff"></div>
<div class="r" style="left:1467px;top:2099px;width:239px;height:62px;background:#fff"></div>
<div class="t" style="left:201.0px;top:2109.14px;font-size:45px;font-weight:bold;color:#000;transform:scaleX(0.9358);transform-origin:0 0">San Vicente</div>
<div class="t" style="right:846.5px;top:2110.25px;font-size:40.5px;font-weight:bold;color:#C55A11;transform:scaleX(0.95);transform-origin:100% 0">6</div>
<div class="t" style="right:661.5px;top:2110.25px;font-size:40.5px;font-weight:bold;color:#767171;transform:scaleX(0.95);transform-origin:100% 0">1</div>
<div class="t" style="right:416.5px;top:2110.25px;font-size:40.5px;font-weight:bold;color:#548235;transform:scaleX(0.95);transform-origin:100% 0">691</div>
<div class="t" style="right:173.5px;top:2110.25px;font-size:40.5px;font-weight:bold;color:#000;transform:scaleX(0.95);transform-origin:100% 0">698</div>
<div class="r" style="left:152px;top:2165px;width:669px;height:62px;background:#BDD7EE"></div>
<div class="r" style="left:825px;top:2165px;width:208px;height:62px;background:#fff"></div>
<div class="r" style="left:1037px;top:2165px;width:181px;height:62px;background:#fff"></div>
<div class="r" style="left:1222px;top:2165px;width:241px;height:62px;background:#fff"></div>
<div class="r" style="left:1467px;top:2165px;width:239px;height:62px;background:#fff"></div>
<div class="t" style="left:201.0px;top:2175.46px;font-size:45px;font-weight:bold;color:#000;transform:scaleX(0.9483);transform-origin:0 0">Santo Niño</div>
<div class="t" style="right:846.5px;top:2176.56px;font-size:40.5px;font-weight:bold;color:#C55A11;transform:scaleX(0.95);transform-origin:100% 0">4</div>
<div class="t" style="right:661.5px;top:2176.56px;font-size:40.5px;font-weight:bold;color:#767171;transform:scaleX(0.95);transform-origin:100% 0">4</div>
<div class="t" style="right:416.5px;top:2176.56px;font-size:40.5px;font-weight:bold;color:#548235;transform:scaleX(0.95);transform-origin:100% 0">862</div>
<div class="t" style="right:173.5px;top:2176.56px;font-size:40.5px;font-weight:bold;color:#000;transform:scaleX(0.95);transform-origin:100% 0">870</div>
<div class="r" style="left:152px;top:2231px;width:669px;height:62px;background:#BDD7EE"></div>
<div class="r" style="left:825px;top:2231px;width:208px;height:62px;background:#fff"></div>
<div class="r" style="left:1037px;top:2231px;width:181px;height:62px;background:#fff"></div>
<div class="r" style="left:1222px;top:2231px;width:241px;height:62px;background:#fff"></div>
<div class="r" style="left:1467px;top:2231px;width:239px;height:62px;background:#fff"></div>
<div class="t" style="left:201.0px;top:2241.77px;font-size:45px;font-weight:bold;color:#000;transform:scaleX(0.9415);transform-origin:0 0">Santol</div>
<div class="t" style="right:846.5px;top:2242.88px;font-size:40.5px;font-weight:bold;color:#C55A11;transform:scaleX(0.95);transform-origin:100% 0">3</div>
<div class="t" style="right:661.5px;top:2242.88px;font-size:40.5px;font-weight:bold;color:#767171;transform:scaleX(0.95);transform-origin:100% 0">3</div>
<div class="t" style="right:416.5px;top:2242.88px;font-size:40.5px;font-weight:bold;color:#548235;transform:scaleX(0.95);transform-origin:100% 0">1,019</div>
<div class="t" style="right:173.5px;top:2242.88px;font-size:40.5px;font-weight:bold;color:#000;transform:scaleX(0.95);transform-origin:100% 0">1,025</div>
<div class="r" style="left:152px;top:2297px;width:669px;height:63px;background:#BDD7EE"></div>
<div class="r" style="left:825px;top:2297px;width:208px;height:63px;background:#fff"></div>
<div class="r" style="left:1037px;top:2297px;width:181px;height:63px;background:#fff"></div>
<div class="r" style="left:1222px;top:2297px;width:241px;height:63px;background:#fff"></div>
<div class="r" style="left:1467px;top:2297px;width:239px;height:63px;background:#fff"></div>
<div class="t" style="left:201.0px;top:2308.09px;font-size:45px;font-weight:bold;color:#000;transform:scaleX(0.9406);transform-origin:0 0">Sikatuna Village</div>
<div class="t" style="right:846.5px;top:2309.20px;font-size:40.5px;font-weight:bold;color:#C55A11;transform:scaleX(0.95);transform-origin:100% 0">16</div>
<div class="t" style="right:661.5px;top:2309.20px;font-size:40.5px;font-weight:bold;color:#767171;transform:scaleX(0.95);transform-origin:100% 0">7</div>
<div class="t" style="right:416.5px;top:2309.20px;font-size:40.5px;font-weight:bold;color:#548235;transform:scaleX(0.95);transform-origin:100% 0">1,509</div>
<div class="t" style="right:173.5px;top:2309.20px;font-size:40.5px;font-weight:bold;color:#000;transform:scaleX(0.95);transform-origin:100% 0">1,532</div>
<div class="r" style="left:152px;top:2364px;width:669px;height:62px;background:#BDD7EE"></div>
<div class="r" style="left:825px;top:2364px;width:208px;height:62px;background:#fff"></div>
<div class="r" style="left:1037px;top:2364px;width:181px;height:62px;background:#fff"></div>
<div class="r" style="left:1222px;top:2364px;width:241px;height:62px;background:#fff"></div>
<div class="r" style="left:1467px;top:2364px;width:239px;height:62px;background:#fff"></div>
<div class="t" style="left:201.0px;top:2374.40px;font-size:45px;font-weight:bold;color:#000;transform:scaleX(0.9381);transform-origin:0 0">South Triangle</div>
<div class="t" style="right:846.5px;top:2375.51px;font-size:40.5px;font-weight:bold;color:#C55A11;transform:scaleX(0.95);transform-origin:100% 0">25</div>
<div class="t" style="right:661.5px;top:2375.51px;font-size:40.5px;font-weight:bold;color:#767171;transform:scaleX(0.95);transform-origin:100% 0">5</div>
<div class="t" style="right:416.5px;top:2375.51px;font-size:40.5px;font-weight:bold;color:#548235;transform:scaleX(0.95);transform-origin:100% 0">2,805</div>
<div class="t" style="right:173.5px;top:2375.51px;font-size:40.5px;font-weight:bold;color:#000;transform:scaleX(0.95);transform-origin:100% 0">2,835</div>
<div class="r" style="left:152px;top:2430px;width:669px;height:62px;background:#BDD7EE"></div>
<div class="r" style="left:825px;top:2430px;width:208px;height:62px;background:#fff"></div>
<div class="r" style="left:1037px;top:2430px;width:181px;height:62px;background:#fff"></div>
<div class="r" style="left:1222px;top:2430px;width:241px;height:62px;background:#fff"></div>
<div class="r" style="left:1467px;top:2430px;width:239px;height:62px;background:#fff"></div>
<div class="t" style="left:201.0px;top:2440.72px;font-size:45px;font-weight:bold;color:#000;transform:scaleX(0.9833);transform-origin:0 0">Tatalon</div>
<div class="t" style="right:846.5px;top:2441.83px;font-size:40.5px;font-weight:bold;color:#C55A11;transform:scaleX(0.95);transform-origin:100% 0">16</div>
<div class="t" style="right:661.5px;top:2441.83px;font-size:40.5px;font-weight:bold;color:#767171;transform:scaleX(0.95);transform-origin:100% 0">24</div>
<div class="t" style="right:416.5px;top:2441.83px;font-size:40.5px;font-weight:bold;color:#548235;transform:scaleX(0.95);transform-origin:100% 0">3,031</div>
<div class="t" style="right:173.5px;top:2441.83px;font-size:40.5px;font-weight:bold;color:#000;transform:scaleX(0.95);transform-origin:100% 0">3,071</div>
<div class="r" style="left:152px;top:2496px;width:669px;height:63px;background:#BDD7EE"></div>
<div class="r" style="left:825px;top:2496px;width:208px;height:63px;background:#fff"></div>
<div class="r" style="left:1037px;top:2496px;width:181px;height:63px;background:#fff"></div>
<div class="r" style="left:1222px;top:2496px;width:241px;height:63px;background:#fff"></div>
<div class="r" style="left:1467px;top:2496px;width:239px;height:63px;background:#fff"></div>
<div class="t" style="left:201.0px;top:2507.04px;font-size:45px;font-weight:bold;color:#000;transform:scaleX(0.9252);transform-origin:0 0">Teachers Village East</div>
<div class="t" style="right:846.5px;top:2508.14px;font-size:40.5px;font-weight:bold;color:#C55A11;transform:scaleX(0.95);transform-origin:100% 0">8</div>
<div class="t" style="right:661.5px;top:2508.14px;font-size:40.5px;font-weight:bold;color:#767171;transform:scaleX(0.95);transform-origin:100% 0">1</div>
<div class="t" style="right:416.5px;top:2508.14px;font-size:40.5px;font-weight:bold;color:#548235;transform:scaleX(0.95);transform-origin:100% 0">636</div>
<div class="t" style="right:173.5px;top:2508.14px;font-size:40.5px;font-weight:bold;color:#000;transform:scaleX(0.95);transform-origin:100% 0">645</div>
<div class="r" style="left:152px;top:2563px;width:669px;height:62px;background:#BDD7EE"></div>
<div class="r" style="left:825px;top:2563px;width:208px;height:62px;background:#fff"></div>
<div class="r" style="left:1037px;top:2563px;width:181px;height:62px;background:#fff"></div>
<div class="r" style="left:1222px;top:2563px;width:241px;height:62px;background:#fff"></div>
<div class="r" style="left:1467px;top:2563px;width:239px;height:62px;background:#fff"></div>
<div class="t" style="left:201.0px;top:2573.35px;font-size:45px;font-weight:bold;color:#000;transform:scaleX(0.9474);transform-origin:0 0">Teachers Village West</div>
<div class="t" style="right:846.5px;top:2574.46px;font-size:40.5px;font-weight:bold;color:#C55A11;transform:scaleX(0.95);transform-origin:100% 0">6</div>
<div class="t" style="right:661.5px;top:2574.46px;font-size:40.5px;font-weight:bold;color:#767171;transform:scaleX(0.95);transform-origin:100% 0">5</div>
<div class="t" style="right:416.5px;top:2574.46px;font-size:40.5px;font-weight:bold;color:#548235;transform:scaleX(0.95);transform-origin:100% 0">639</div>
<div class="t" style="right:173.5px;top:2574.46px;font-size:40.5px;font-weight:bold;color:#000;transform:scaleX(0.95);transform-origin:100% 0">650</div>
<div class="r" style="left:152px;top:2629px;width:669px;height:62px;background:#BDD7EE"></div>
<div class="r" style="left:825px;top:2629px;width:208px;height:62px;background:#fff"></div>
<div class="r" style="left:1037px;top:2629px;width:181px;height:62px;background:#fff"></div>
<div class="r" style="left:1222px;top:2629px;width:241px;height:62px;background:#fff"></div>
<div class="r" style="left:1467px;top:2629px;width:239px;height:62px;background:#fff"></div>
<div class="t" style="left:201.0px;top:2639.67px;font-size:45px;font-weight:bold;color:#000;transform:scaleX(0.9485);transform-origin:0 0">U.P. Campus</div>
<div class="t" style="right:846.5px;top:2640.78px;font-size:40.5px;font-weight:bold;color:#C55A11;transform:scaleX(0.95);transform-origin:100% 0">13</div>
<div class="t" style="right:661.5px;top:2640.78px;font-size:40.5px;font-weight:bold;color:#767171;transform:scaleX(0.95);transform-origin:100% 0">13</div>
<div class="t" style="right:416.5px;top:2640.78px;font-size:40.5px;font-weight:bold;color:#548235;transform:scaleX(0.95);transform-origin:100% 0">2,671</div>
<div class="t" style="right:173.5px;top:2640.78px;font-size:40.5px;font-weight:bold;color:#000;transform:scaleX(0.95);transform-origin:100% 0">2,697</div>
<div class="r" style="left:152px;top:2695px;width:669px;height:63px;background:#BDD7EE"></div>
<div class="r" style="left:825px;top:2695px;width:208px;height:63px;background:#fff"></div>
<div class="r" style="left:1037px;top:2695px;width:181px;height:63px;background:#fff"></div>
<div class="r" style="left:1222px;top:2695px;width:241px;height:63px;background:#fff"></div>
<div class="r" style="left:1467px;top:2695px;width:239px;height:63px;background:#fff"></div>
<div class="t" style="left:201.0px;top:2705.98px;font-size:45px;font-weight:bold;color:#000;transform:scaleX(0.9724);transform-origin:0 0">U.P. Village</div>
<div class="t" style="right:846.5px;top:2707.09px;font-size:40.5px;font-weight:bold;color:#C55A11;transform:scaleX(0.95);transform-origin:100% 0">11</div>
<div class="r" style="left:1145px;top:2728px;width:11px;height:5px;border-radius:2.5px;background:#767171"></div>
<div class="t" style="right:416.5px;top:2707.09px;font-size:40.5px;font-weight:bold;color:#548235;transform:scaleX(0.95);transform-origin:100% 0">753</div>
<div class="t" style="right:173.5px;top:2707.09px;font-size:40.5px;font-weight:bold;color:#000;transform:scaleX(0.95);transform-origin:100% 0">764</div>
<div class="r" style="left:152px;top:2762px;width:669px;height:62px;background:#BDD7EE"></div>
<div class="r" style="left:825px;top:2762px;width:208px;height:62px;background:#fff"></div>
<div class="r" style="left:1037px;top:2762px;width:181px;height:62px;background:#fff"></div>
<div class="r" style="left:1222px;top:2762px;width:241px;height:62px;background:#fff"></div>
<div class="r" style="left:1467px;top:2762px;width:239px;height:62px;background:#fff"></div>
<div class="t" style="left:201.0px;top:2772.30px;font-size:45px;font-weight:bold;color:#000;transform:scaleX(0.9414);transform-origin:0 0">Valencia</div>
<div class="t" style="right:846.5px;top:2773.41px;font-size:40.5px;font-weight:bold;color:#C55A11;transform:scaleX(0.95);transform-origin:100% 0">19</div>
<div class="t" style="right:661.5px;top:2773.41px;font-size:40.5px;font-weight:bold;color:#767171;transform:scaleX(0.95);transform-origin:100% 0">3</div>
<div class="t" style="right:416.5px;top:2773.41px;font-size:40.5px;font-weight:bold;color:#548235;transform:scaleX(0.95);transform-origin:100% 0">1,776</div>
<div class="t" style="right:173.5px;top:2773.41px;font-size:40.5px;font-weight:bold;color:#000;transform:scaleX(0.95);transform-origin:100% 0">1,798</div>
<div class="r" style="left:152px;top:2828px;width:669px;height:68px;background:#203864"></div>
<div class="r" style="left:825px;top:2828px;width:208px;height:68px;background:#203864"></div>
<div class="r" style="left:1037px;top:2828px;width:181px;height:68px;background:#203864"></div>
<div class="r" style="left:1222px;top:2828px;width:241px;height:68px;background:#203864"></div>
<div class="r" style="left:1467px;top:2828px;width:239px;height:68px;background:#203864"></div>
<div class="t" style="left:201.5px;top:2839.75px;font-size:50.5px;font-weight:bold;font-style:italic;color:#fff;transform:scaleX(0.955);transform-origin:0 0">District 4 Total</div>
<div class="t" style="right:850.0px;top:2839.75px;font-size:50.5px;font-weight:bold;font-style:italic;color:#fff">430</div>
<div class="t" style="right:695.0px;top:2839.75px;font-size:50.5px;font-weight:bold;font-style:italic;color:#fff">219</div>
<div class="t" style="right:423.0px;top:2839.75px;font-size:50.5px;font-weight:bold;font-style:italic;color:#fff">54,191</div>
<div class="t" style="right:176.0px;top:2839.75px;font-size:50.5px;font-weight:bold;font-style:italic;color:#fff">54,840</div>
<div class="t c" style="left:430.7px;width:1000px;top:3029.75px;font-size:29px;color:#000">Page 3 of 4</div>
</body></html>
